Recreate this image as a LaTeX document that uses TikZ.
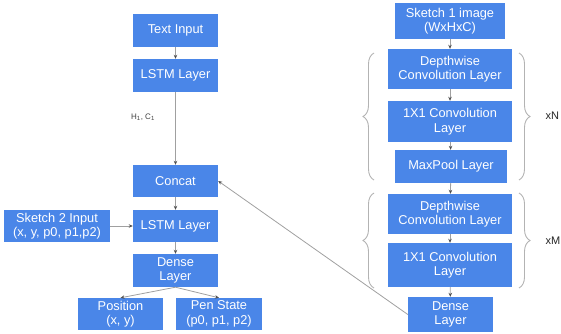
\documentclass[tikz,border=0pt]{standalone}
\usepackage{fontspec}
\setmainfont{Liberation Sans}
\usetikzlibrary{arrows.meta,decorations.pathreplacing}
\definecolor{boxblue}{RGB}{74,134,232}
\definecolor{linegray}{RGB}{160,160,160}
\definecolor{tipgray}{RGB}{80,80,80}
\tikzset{
  blk/.style={fill=boxblue, text=white, align=center, inner sep=0pt,
    font=\fontsize{12.8}{14.5}\selectfont},
  conn/.style={draw=linegray, line width=0.8pt,
    -{Stealth[length=4pt,width=3.5pt,color=tipgray]}},
  brc/.style={draw=linegray!80, line width=0.9pt,
    decorate, decoration={brace, amplitude=11pt}},
  lbl/.style={font=\fontsize{11}{13}\selectfont, text=black!85}
}
\begin{document}
\begin{tikzpicture}[x=1pt,y=-1pt]
\useasboundingbox (0,0) rectangle (561,333);
% left column
\node[blk, minimum width=85, minimum height=33] (ti) at (175.5,30.5) {Text Input};
\node[blk, minimum width=85, minimum height=33] (l1) at (175.5,75.5) {LSTM Layer};
\node[blk, minimum width=85, minimum height=32] (cc) at (175.5,181) {Concat};
\node[blk, minimum width=85, minimum height=32] (l2) at (175.5,226) {LSTM Layer};
\node[blk, minimum width=106, minimum height=32] (s2) at (57,226) {Sketch 2 Input\\(x, y, p0, p1,p2)};
\node[blk, minimum width=85, minimum height=33] (dl) at (175.5,270.5) {Dense\\Layer};
\node[blk, minimum width=85, minimum height=32] (po) at (120.5,314) {Position\\(x, y)};
\node[blk, minimum width=86, minimum height=32] (ps) at (219,314) {Pen State\\(p0, p1, p2)};
\node[font=\fontsize{8}{9}\selectfont, text=black!75] (hc) at (143,117) {H\textsubscript{1}, C\textsubscript{1}};
% right column
\node[blk, minimum width=110, minimum height=36] (s1) at (450,21) {Sketch 1 image\\(WxHxC)};
\node[blk, minimum width=124, minimum height=40] (dn) at (450,69) {Depthwise\\Convolution Layer};
\node[blk, minimum width=124, minimum height=41] (cn) at (450,121.5) {1X1 Convolution\\Layer};
\node[blk, minimum width=112, minimum height=33] (mp) at (451,166.5) {MaxPool Layer};
\node[blk, minimum width=124, minimum height=40] (dm) at (450,214) {Depthwise\\Convolution Layer};
\node[blk, minimum width=124, minimum height=44] (cm) at (450,265) {1X1 Convolution\\Layer};
\node[blk, minimum width=85, minimum height=35] (dr) at (450.5,314.5) {Dense\\Layer};
% braces
\coordinate (bnl1) at (374,180);
\coordinate (bnl2) at (374,53);
\coordinate (bnr1) at (519,53);
\coordinate (bnr2) at (519,180);
\coordinate (bml1) at (374,288);
\coordinate (bml2) at (374,193);
\coordinate (bmr1) at (519,193);
\coordinate (bmr2) at (519,288);
\draw[brc] (bnl1) -- (bnl2);
\draw[brc] (bnr1) -- (bnr2);
\draw[brc] (bml1) -- (bml2);
\draw[brc] (bmr1) -- (bmr2);
\node[lbl, anchor=west] (xn) at (542,116) {xN};
\node[lbl, anchor=west] (xm) at (542,241) {xM};
% connectors
\draw[conn] (ti) -- (l1);
\draw[conn] (l1) -- (cc);
\draw[conn] (cc) -- (l2);
\draw[conn] (s2) -- (l2);
\draw[conn] (l2) -- (dl);
\draw[conn] (dl.south) -- (po.north);
\draw[conn] (dl.south) -- (ps.north);
\draw[conn] (s1) -- (dn);
\draw[conn] (dn) -- (cn);
\draw[conn] (cn) -- (mp);
\draw[conn] (mp) -- (dm);
\draw[conn] (dm) -- (cm);
\draw[conn] (cm) -- (dr);
\draw[conn] (dr.west) -- (cc.east);
\end{tikzpicture}
\end{document}
